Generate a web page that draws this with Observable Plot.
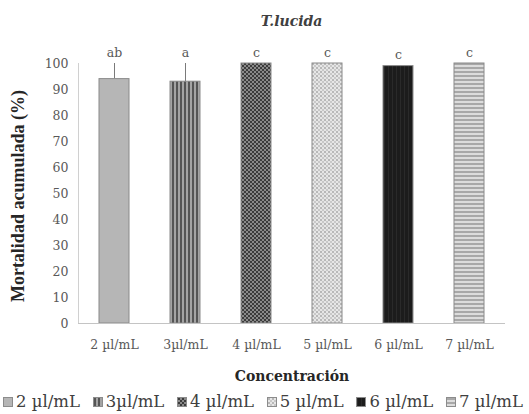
<!DOCTYPE html>
<html>
<head>
<meta charset="utf-8">
<script src="https://cdn.jsdelivr.net/npm/d3@7"></script>
<script src="https://cdn.jsdelivr.net/npm/@observablehq/plot@0.6"></script>
<style>
  body { margin: 0; background: #fff; font-family: "DejaVu Serif", serif; }
  #title { height: 35px; box-sizing: border-box; padding-left: 78px; padding-right: 24px; padding-top: 13px;
           text-align: center; font-weight: bold; font-style: italic; font-size: 14px; line-height: 16px; color: #404040; }
  #legend { display: flex; justify-content: space-between; padding: 0 6px 0 3px; font-size: 16.5px; color: #404040; margin-top: 2px; }
  .item { display: flex; align-items: center; }
  .sw { width: 10px; height: 10px; margin-right: 3px; border: 1px solid #8c8c8c; box-sizing: border-box; }
</style>
</head>
<body>
<div id="title">T.lucida</div>
<div id="chart"></div>
<div id="legend"></div>
<script>
const categories = ["2 µl/mL", "3µl/mL", "4 µl/mL", "5 µl/mL", "6 µl/mL", "7 µl/mL"];
const values = [94, 93, 100, 100, 99, 100];
const errors = [6, 7, 0, 0, 0, 0];
const letters = ["ab", "a", "c", "c", "c", "c"];
const yTicks = [0, 10, 20, 30, 40, 50, 60, 70, 80, 90, 100];

const data = categories.map((c, i) => ({cat: c, value: values[i], err: errors[i], letter: letters[i], top: values[i] + errors[i]}));

const patternDefs = `
<pattern id="p0" patternUnits="userSpaceOnUse" width="4" height="4"><rect width="4" height="4" fill="#b6b6b6"/></pattern>
<pattern id="p1" patternUnits="userSpaceOnUse" width="4" height="4"><rect width="4" height="4" fill="#a4a4a4"/><rect width="2" height="4" fill="#555"/></pattern>
<pattern id="p2" patternUnits="userSpaceOnUse" width="4" height="4"><rect width="4" height="4" fill="#8a8a8a"/><rect width="2" height="2" fill="#3c3c3c"/><rect x="2" y="2" width="2" height="2" fill="#3c3c3c"/></pattern>
<pattern id="p3" patternUnits="userSpaceOnUse" width="4" height="4"><rect width="4" height="4" fill="#e6e6e6"/><rect width="2" height="2" fill="#b8b8b8"/><rect x="2" y="2" width="2" height="2" fill="#c8c8c8"/></pattern>
<pattern id="p4" patternUnits="userSpaceOnUse" width="4" height="4"><rect width="4" height="4" fill="#1c1c1c"/><rect width="1" height="4" fill="#2a2a2a"/></pattern>
<pattern id="p5" patternUnits="userSpaceOnUse" width="4" height="4"><rect width="4" height="4" fill="#dcdcdc"/><rect width="4" height="2" fill="#a8a8a8"/></pattern>`;

const FONT = '"DejaVu Serif", serif';

const chart = Plot.plot({
  width: 529,
  height: 355,
  marginLeft: 78,
  marginRight: 24,
  marginTop: 28,
  marginBottom: 67,
  style: {fontFamily: FONT, fontSize: "12.5px", color: "#595959"},
  x: {domain: categories, paddingInner: 0.58, paddingOuter: 0.29, label: null},
  y: {domain: [0, 100], label: null},
  marks: [
    Plot.axisY({ticks: yTicks, tickSize: 0, tickPadding: 10, label: null, fontSize: 12.5}),
    Plot.axisX({tickSize: 0, tickPadding: 17, label: null, fontSize: 12.5}),
    Plot.ruleX(data.filter(d => d.err > 0), {x: "cat", y1: "value", y2: "top", stroke: "#7a7a7a", strokeWidth: 1}),
    Plot.barY(data, {x: "cat", y: "value", fill: "#999", stroke: "#8a8a8a", strokeWidth: 1}),
    Plot.ruleY([0], {stroke: "#c4c4c4", strokeWidth: 1.2}),
    Plot.text(data, {x: "cat", y: "top", text: "letter", dy: -11, fontSize: 12.5, fill: "#595959"}),
    Plot.text(["Concentración"], {frameAnchor: "bottom", dy: 57, fontSize: 14, fontWeight: "bold", fill: "#262626"}),
    Plot.text(["Mortalidad acumulada (%)"], {frameAnchor: "left", y: [49], dx: -60, textAnchor: "middle", rotate: -90,
      fontSize: 18, fontWeight: "bold", fontFamily: '"Liberation Serif", serif', fill: "#262626"})
  ]
});

const svgNS = "http://www.w3.org/2000/svg";
// patterns
const defs = document.createElementNS(svgNS, "defs");
defs.innerHTML = patternDefs;
chart.insertBefore(defs, chart.firstChild);
chart.querySelector('g[aria-label="bar"]').querySelectorAll("rect").forEach((r, i) => r.setAttribute("fill", `url(#p${i})`));

// y axis line from the y scale
const ys = chart.scale("y");
const line = document.createElementNS(svgNS, "line");
line.setAttribute("x1", 78.5); line.setAttribute("x2", 78.5);
line.setAttribute("y1", ys.apply(0)); line.setAttribute("y2", ys.apply(100));
line.setAttribute("stroke", "#d0d0d0");
chart.appendChild(line);

document.getElementById("chart").appendChild(chart);

// legend
const legend = document.getElementById("legend");
categories.forEach((c, i) => {
  const item = document.createElement("div");
  item.className = "item";
  const sw = document.createElement("div");
  sw.className = "sw";
  const s = document.createElementNS(svgNS, "svg");
  s.setAttribute("width", 8); s.setAttribute("height", 8);
  s.innerHTML = `<defs>${patternDefs.replace(/id="p/g, 'id="l' + i + 'p')}</defs><rect width="8" height="8" fill="url(#l${i}p${i})"/>`;
  s.style.display = "block";
  sw.appendChild(s);
  const t = document.createElement("span");
  t.textContent = c;
  item.appendChild(sw); item.appendChild(t);
  legend.appendChild(item);
});
</script>
</body>
</html>
